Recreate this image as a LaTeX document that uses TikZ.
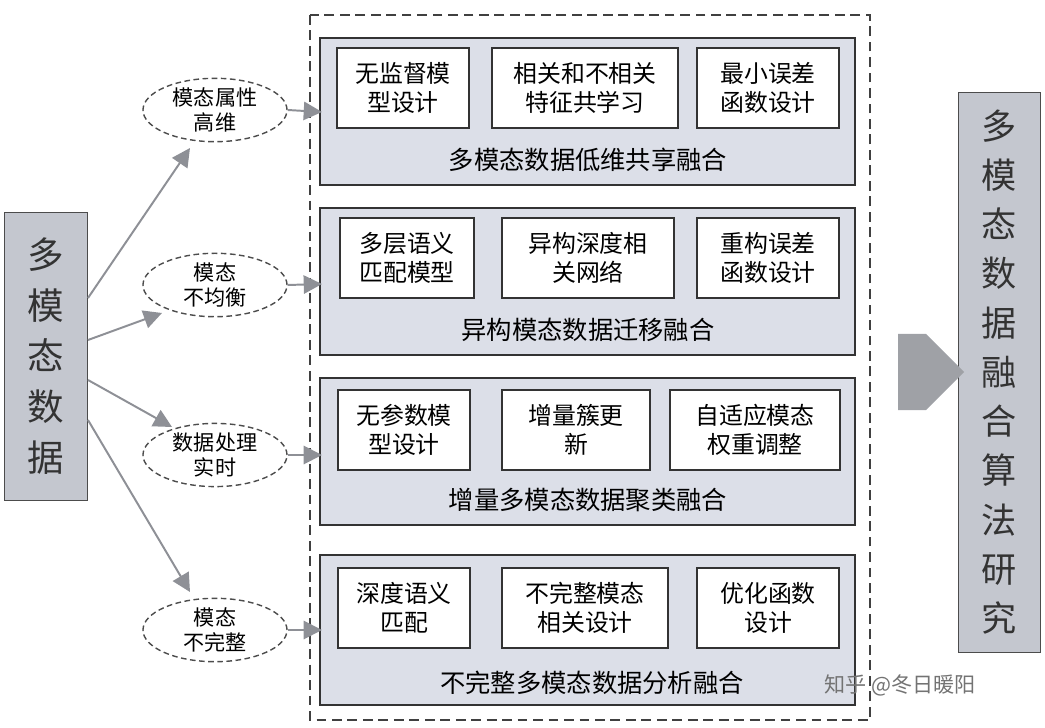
\documentclass[tikz,border=0pt]{standalone}
\usepackage{fontspec}
\setmainfont{Noto Sans CJK SC}
\usetikzlibrary{arrows.meta, shapes.geometric, shapes.arrows}
\definecolor{panel}{HTML}{DCDFE8}
\definecolor{side}{HTML}{C4C7CF}
\definecolor{arr}{HTML}{8E9096}
\begin{document}
\begin{tikzpicture}[x=0.025cm, y=-0.025cm,
  box/.style={draw=black!80, line width=1pt, fill=white, font=\fontsize{17}{21}\selectfont, align=center, inner sep=0pt},
  pan/.style={draw=black!80, line width=1pt, fill=panel},
  ell/.style={ellipse, draw=black!70, dash pattern=on 4pt off 2.5pt, line width=1pt, fill=white, minimum width=3.6cm, minimum height=1.55cm, font=\fontsize{15}{18}\selectfont, align=center, inner sep=0pt},
  lab/.style={font=\fontsize{18}{22}\selectfont},
  ar/.style={-{Triangle[length=13pt,width=13pt]}, draw=arr, fill=arr, line width=1.4pt}]
\useasboundingbox (0,0) rectangle (1045,728);

% left and right blocks
\node[draw=black!70, fill=side, minimum width=2.07cm, minimum height=7.2cm, align=center, font=\fontsize{26}{36}\selectfont, text=black!80] (src) at (46,356) {多\\模\\态\\数\\据};
\node[draw=black!70, fill=side, minimum width=2.05cm, minimum height=14cm, align=center, font=\fontsize{25}{35}\selectfont, text=black!80] (res) at (999,372) {多\\模\\态\\数\\据\\融\\合\\算\\法\\研\\究};

% dashed frame
\draw[dash pattern=on 7pt off 4pt, line width=1.1pt, black!75] (310,15) rectangle (870,720);

% panels
\draw[pan] (320,38) rectangle (855,185);
\draw[pan] (320,208) rectangle (855,355);
\draw[pan] (320,378) rectangle (855,525);
\draw[pan] (320,555) rectangle (855,705);

\node[lab] (l1) at (588,160) {多模态数据低维共享融合};
\node[lab] (l2) at (588,330) {异构模态数据迁移融合};
\node[lab] (l3) at (588,500) {增量多模态数据聚类融合};
\node[lab] (l4) at (592,683) {不完整多模态数据分析融合};

% inner boxes
\node[box, minimum width=3.3cm, minimum height=2cm] (a1) at (403,88) {无监督模\\型设计};
\node[box, minimum width=4.65cm, minimum height=2cm] (a2) at (585,88) {相关和不相关\\特征共学习};
\node[box, minimum width=3.55cm, minimum height=2cm] (a3) at (768,88) {最小误差\\函数设计};
\node[box, minimum width=3.35cm, minimum height=2cm] (b1) at (407,258) {多层语义\\匹配模型};
\node[box, minimum width=4.3cm, minimum height=2cm] (b2) at (588,258) {异构深度相\\关网络};
\node[box, minimum width=3.55cm, minimum height=2cm] (b3) at (768,258) {重构误差\\函数设计};
\node[box, minimum width=3.3cm, minimum height=2cm] (c1) at (404,430) {无参数模\\型设计};
\node[box, minimum width=3.7cm, minimum height=2cm] (c2) at (576,430) {增量簇更\\新};
\node[box, minimum width=4.25cm, minimum height=2cm] (c3) at (755,430) {自适应模态\\权重调整};
\node[box, minimum width=3.3cm, minimum height=2cm] (d1) at (404,608) {深度语义\\匹配};
\node[box, minimum width=4.15cm, minimum height=2cm] (d2) at (585,608) {不完整模态\\相关设计};
\node[box, minimum width=3.55cm, minimum height=2cm] (d3) at (768,608) {优化函数\\设计};

% ellipses
\node[ell] (e1) at (215,110) {模态属性\\高维};
\node[ell] (e2) at (215,285) {模态\\不均衡};
\node[ell] (e3) at (215,455) {数据处理\\实时};
\node[ell] (e4) at (215,630) {模态\\不完整};

% arrows
\coordinate (s1) at (88,298);
\coordinate (s2) at (88,340);
\coordinate (s3) at (88,380);
\coordinate (s4) at (88,420);
\coordinate (t1) at (190,148);
\coordinate (t2) at (162,313);
\coordinate (t3) at (172,427);
\coordinate (t4) at (190,592);
\draw[ar] (s1) -- (t1);
\draw[ar] (s2) -- (t2);
\draw[ar] (s3) -- (t3);
\draw[ar] (s4) -- (t4);
\coordinate (p1) at (322,112);
\coordinate (p2) at (322,284);
\coordinate (p3) at (322,455);
\coordinate (p4) at (322,630);
\draw[ar] (e1.east) -- (p1);
\draw[ar] (e2.east) -- (p2);
\draw[ar] (e3.east) -- (p3);
\draw[ar] (e4.east) -- (p4);

% big arrow
\node[single arrow, fill=arr!85, draw=none, minimum height=1.65cm, minimum width=1.9cm, single arrow head extend=0pt, single arrow head indent=0pt, single arrow tip angle=90, inner sep=0pt, text width=0.55cm] (big) at (912,372) {};

% watermark
\node[font=\fontsize{15}{18}\selectfont, text=black!55] (wm) at (900,685) {知乎 @冬日暖阳};
\end{tikzpicture}
\end{document}
